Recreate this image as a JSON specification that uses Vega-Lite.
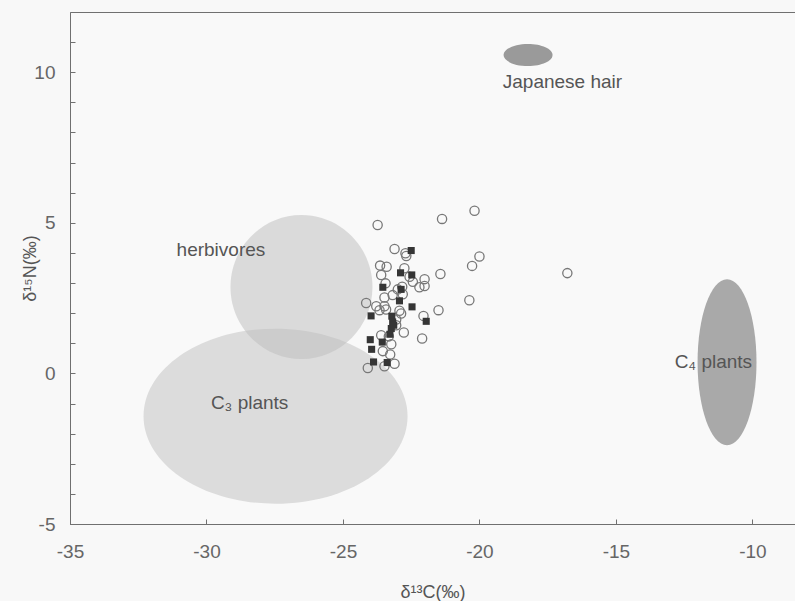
{
  "$schema": "https://vega.github.io/schema/vega-lite/v6.json",
  "width": 725,
  "height": 512,
  "autosize": {"type": "none"},
  "padding": {"left": 70, "top": 12, "right": 0, "bottom": 77},
  "background": "#f8f8f8",
  "config": {
    "font": "Liberation Sans",
    "view": {"stroke": "#707070", "strokeWidth": 1, "fill": "#f9f9f9"},
    "axis": {"grid": false, "domainColor": "#707070", "tickColor": "#707070", "labelColor": "#666666", "titleColor": "#555555", "labelFont": "Liberation Sans", "titleFont": "Liberation Sans", "labelFontSize": 19, "titleFontSize": 18, "titleFontWeight": "normal"}
  },
  "datasets": {
    "regions": [
      {"c": -27.47, "n": -1.42, "name": "C3"},
      {"c": -26.52, "n": 2.87, "name": "herb"},
      {"c": -10.93, "n": 0.37, "name": "C4"},
      {"c": -18.22, "n": 10.57, "name": "hair"}
    ],
    "labels": [
      {"c": -16.96, "n": 9.67, "text": "Japanese hair"},
      {"c": -29.47, "n": 4.1, "text": "herbivores"},
      {"c": -28.42, "n": -0.97, "text": "C₃ plants"},
      {"c": -11.43, "n": 0.37, "text": "C₄ plants"}
    ],
    "samples": [
      {"c": -23.73, "n": 4.93, "g": "o"},
      {"c": -21.37, "n": 5.13, "g": "o"},
      {"c": -20.18, "n": 5.4, "g": "o"},
      {"c": -23.11, "n": 4.13, "g": "o"},
      {"c": -22.71, "n": 3.99, "g": "o"},
      {"c": -22.68, "n": 3.9, "g": "o"},
      {"c": -23.64, "n": 3.58, "g": "o"},
      {"c": -23.4, "n": 3.54, "g": "o"},
      {"c": -23.6, "n": 3.27, "g": "o"},
      {"c": -22.75, "n": 3.49, "g": "o"},
      {"c": -20.0, "n": 3.88, "g": "o"},
      {"c": -20.27, "n": 3.57, "g": "o"},
      {"c": -21.43, "n": 3.3, "g": "o"},
      {"c": -22.01, "n": 3.13, "g": "o"},
      {"c": -22.2, "n": 2.86, "g": "o"},
      {"c": -22.01, "n": 2.9, "g": "o"},
      {"c": -22.56, "n": 3.21, "g": "o"},
      {"c": -22.44, "n": 3.04, "g": "o"},
      {"c": -23.44, "n": 2.99, "g": "o"},
      {"c": -22.99, "n": 2.79, "g": "o"},
      {"c": -22.83, "n": 2.88, "g": "o"},
      {"c": -22.81, "n": 2.63, "g": "o"},
      {"c": -23.18, "n": 2.6, "g": "o"},
      {"c": -23.48, "n": 2.52, "g": "o"},
      {"c": -24.15, "n": 2.34, "g": "o"},
      {"c": -23.78, "n": 2.23, "g": "o"},
      {"c": -23.48, "n": 2.23, "g": "o"},
      {"c": -23.66, "n": 2.1, "g": "o"},
      {"c": -23.42, "n": 2.12, "g": "o"},
      {"c": -22.93, "n": 2.08, "g": "o"},
      {"c": -22.87, "n": 1.99, "g": "o"},
      {"c": -20.37, "n": 2.43, "g": "o"},
      {"c": -21.5, "n": 2.1, "g": "o"},
      {"c": -22.05, "n": 1.91, "g": "o"},
      {"c": -23.05, "n": 1.79, "g": "o"},
      {"c": -22.77, "n": 1.36, "g": "o"},
      {"c": -23.6, "n": 1.27, "g": "o"},
      {"c": -23.32, "n": 1.23, "g": "o"},
      {"c": -22.1, "n": 1.16, "g": "o"},
      {"c": -23.23, "n": 0.97, "g": "o"},
      {"c": -23.54, "n": 0.74, "g": "o"},
      {"c": -23.27, "n": 0.63, "g": "o"},
      {"c": -24.09, "n": 0.18, "g": "o"},
      {"c": -23.48, "n": 0.24, "g": "o"},
      {"c": -23.11, "n": 0.32, "g": "o"},
      {"c": -23.05, "n": 1.6, "g": "o"},
      {"c": -16.78, "n": 3.33, "g": "o"},
      {"c": -22.5, "n": 4.08, "g": "s"},
      {"c": -22.89, "n": 3.34, "g": "s"},
      {"c": -22.48, "n": 3.27, "g": "s"},
      {"c": -23.54, "n": 2.86, "g": "s"},
      {"c": -22.87, "n": 2.79, "g": "s"},
      {"c": -22.93, "n": 2.41, "g": "s"},
      {"c": -22.47, "n": 2.21, "g": "s"},
      {"c": -23.97, "n": 1.91, "g": "s"},
      {"c": -23.21, "n": 1.9, "g": "s"},
      {"c": -23.18, "n": 1.71, "g": "s"},
      {"c": -23.23, "n": 1.49, "g": "s"},
      {"c": -21.95, "n": 1.73, "g": "s"},
      {"c": -24.0, "n": 1.12, "g": "s"},
      {"c": -23.56, "n": 1.04, "g": "s"},
      {"c": -23.95, "n": 0.8, "g": "s"},
      {"c": -23.88, "n": 0.38, "g": "s"},
      {"c": -23.38, "n": 0.36, "g": "s"},
      {"c": -23.14, "n": 1.6, "g": "s"},
      {"c": -23.28, "n": 1.3, "g": "s"}
    ]
  },
  "encoding": {
    "x": {"field": "c", "type": "quantitative",
      "scale": {"domain": [-35, -8.44], "nice": false, "zero": false},
      "axis": {"title": "δ¹³C(‰)", "values": [-35, -30, -25, -20, -15, -10], "labelExpr": "'' + datum.value", "tickSize": -5, "labelPadding": 23, "titlePadding": 22, "labelFlush": false}},
    "y": {"field": "n", "type": "quantitative",
      "scale": {"domain": [-5, 12], "nice": false, "zero": false},
      "axis": {"title": "δ¹⁵N(‰)", "values": [-5, -4, -3, -2, -1, 0, 1, 2, 3, 4, 5, 6, 7, 8, 9, 10, 11], "labelExpr": "datum.value % 5 === 0 ? '' + datum.value : ''", "tickSize": -5, "labelPadding": 20, "titlePadding": -6, "labelFlush": false}}
  },
  "layer": [
    {"data": {"name": "regions"}, "transform": [{"filter": "datum.name === 'C3'"}],
     "mark": {"type": "point", "shape": "M -1 0 A 1 0.663 0 1 0 1 0 A 1 0.663 0 1 0 -1 0 Z", "size": 69696, "filled": true, "color": "#dcdcdc", "opacity": 1, "strokeWidth": 0, "clip": true}},
    {"data": {"name": "regions"}, "transform": [{"filter": "datum.name === 'herb'"}],
     "mark": {"type": "point", "shape": "M -0.986 0 A 0.986 1 0 1 0 0.986 0 A 0.986 1 0 1 0 -0.986 0 Z", "size": 20736, "filled": true, "color": "#bcbcbc", "opacity": 0.5, "strokeWidth": 0, "clip": true}},
    {"data": {"name": "regions"}, "transform": [{"filter": "datum.name === 'C4'"}],
     "mark": {"type": "point", "shape": "M -0.355 0 A 0.355 1 0 1 0 0.355 0 A 0.355 1 0 1 0 -0.355 0 Z", "size": 27556, "filled": true, "color": "#a9a9a9", "opacity": 1, "strokeWidth": 0, "clip": true}},
    {"data": {"name": "regions"}, "transform": [{"filter": "datum.name === 'hair'"}],
     "mark": {"type": "point", "shape": "M -1 0 A 1 0.449 0 1 0 1 0 A 1 0.449 0 1 0 -1 0 Z", "size": 2401, "filled": true, "color": "#9a9a9a", "opacity": 1, "strokeWidth": 0, "clip": true}},
    {"data": {"name": "samples"}, "transform": [{"filter": "datum.g === 'o'"}],
     "mark": {"type": "point", "shape": "circle", "size": 85, "filled": false, "stroke": "#777777", "strokeWidth": 1.3, "opacity": 1}},
    {"data": {"name": "samples"}, "transform": [{"filter": "datum.g === 's'"}],
     "mark": {"type": "point", "shape": "square", "size": 50, "filled": true, "color": "#353535", "opacity": 1}},
    {"data": {"name": "labels"},
     "mark": {"type": "text", "fontSize": 19, "font": "Liberation Sans", "color": "#555555", "align": "center", "baseline": "middle"},
     "encoding": {"text": {"field": "text"}}}
  ]
}
